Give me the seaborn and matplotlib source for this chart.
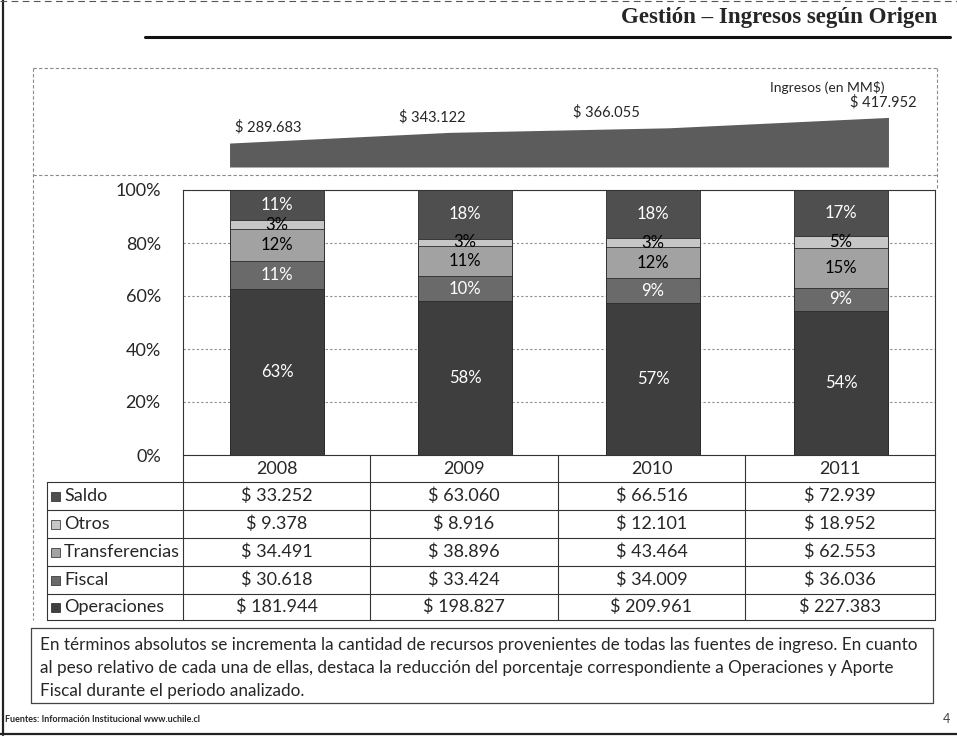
"""
Gestión - Ingresos según Origen: 100% stacked bars with totals wedge and value table
"""
import matplotlib
matplotlib.use("Agg")
import matplotlib.pyplot as plt
from matplotlib.lines import Line2D
from matplotlib.patches import Rectangle
import seaborn as sns
import numpy as np

sns.set_style("white")
plt.rcParams['font.family'] = ['Lato', 'DejaVu Sans']

# data (MM$)
years = ['2008', '2009', '2010', '2011']
totals = [289683, 343122, 366055, 417952]
saldo = [33252, 63060, 66516, 72939]
otros = [9378, 8916, 12101, 18952]
transferencias = [34491, 38896, 43464, 62553]
fiscal = [30618, 33424, 34009, 36036]
operaciones = [181944, 198827, 209961, 227383]

# top to bottom in the stack and in the table
series_names = ['Saldo', 'Otros', 'Transferencias', 'Fiscal', 'Operaciones']
series_vals = [saldo, otros, transferencias, fiscal, operaciones]
colors = ['#4f4f4f', '#c6c6c6', '#a2a2a2', '#6a6a6a', '#3e3e3e']
text_colors = ['white', 'black', 'black', 'white', 'white']

W, H = 957, 737
def fx(x): return x / W
def fy(y): return 1 - y / H

fig = plt.figure(figsize=(W / 100, H / 100), dpi=100)

def hline(x0, x1, y, **kw):
    fig.add_artist(Line2D([fx(x0), fx(x1)], [fy(y), fy(y)], **kw))

def vline(x, y0, y1, **kw):
    fig.add_artist(Line2D([fx(x), fx(x)], [fy(y0), fy(y1)], **kw))

# page frame + title
vline(3, 0, 735, color='#222', lw=1.6)
hline(0, 957, 734, color='#222', lw=1.6)
hline(0, 957, 1, color='#555', lw=0.8, ls=(0, (6, 4)))
fig.text(fx(937), fy(18), 'Gestión – Ingresos según Origen', ha='right', va='center',
         fontsize=16.5, fontweight='bold', family=['Liberation Serif', 'DejaVu Serif'])
hline(145, 950, 37, color='#111', lw=2.2)

# panel outlines (light, dashed)
dash = dict(color='#8a8a8a', lw=0.8, ls=(0, (3, 2)))
hline(33, 937, 68, **dash)
hline(33, 937, 175, **dash)
vline(33, 68, 620, **dash)
vline(937, 68, 190, **dash)

# stacked 100% bars
ax = fig.add_axes([fx(183), fy(455), (935 - 183) / W, (455 - 190) / H])
bar_w = 0.505
sums = np.sum(series_vals, axis=0)
shares = [np.array(v) / sums for v in series_vals]
cum = np.cumsum(shares[::-1], axis=0)[::-1]  # cumulative from bottom, listed top-first
for i, name in enumerate(series_names):
    sns.barplot(x=years, y=cum[i] * 100, color=colors[i], width=bar_w, saturation=1,
                edgecolor='#2a2a2a', linewidth=0.6, ax=ax, zorder=2)
for i in range(len(series_names)):
    for j in range(len(years)):
        mid = (cum[i][j] - shares[i][j] / 2) * 100
        ax.text(j, mid, f"{round(shares[i][j] * 100)}%", ha='center', va='center',
                fontsize=12, color=text_colors[i], zorder=3)
ax.set_xlim(-0.5, 3.5)
ax.set_ylim(0, 100)
ax.set_yticks(range(0, 101, 20))
ax.set_yticklabels([f"{t}%" for t in range(0, 101, 20)], fontsize=13)
ax.tick_params(axis='y', length=0, pad=16)
ax.set_xticks([])
ax.set_xlabel('')
ax.set_ylabel('')
ax.grid(axis='y', color='#8c8c8c', lw=0.8, ls=(0, (2, 2)), zorder=0)
ax.set_axisbelow(True)
for s in ax.spines.values():
    s.set_color('#333')
    s.set_linewidth(0.8)

# totals wedge on top
axw = fig.add_axes([fx(183), fy(167), (935 - 183) / W, 70 / H])
xs = np.linspace(-bar_w / 2, 3 + bar_w / 2, len(totals))
axw.fill_between(xs, totals, 170000, color='#5c5c5c', lw=0)
axw.set_xlim(-0.5, 3.5)
axw.set_ylim(170000, 520000)
axw.axis('off')
offsets = [(28, 6), (-12, 6), (-45, 6), (-4, 6)]
for x, t, off in zip(xs, totals, offsets):
    axw.annotate(f"$ {t:,}".replace(',', '.'), (x, t), xytext=off, textcoords='offset points',
                 ha='center', va='bottom', fontsize=10.5, annotation_clip=False)
fig.text(fx(884), fy(88), 'Ingresos (en MM$)', ha='right', va='center', fontsize=10)

# table below the bars
col_edges = [183, 370, 558, 745, 935]
row_edges = [482, 510, 538, 566, 594, 620]
line = dict(color='#333', lw=0.8)
for j, yr in enumerate(years):
    fig.text(fx((col_edges[j] + col_edges[j + 1]) / 2), fy(469), yr, ha='center', va='center',
             fontsize=13)
for x in col_edges:
    vline(x, 455, 620, **line)
vline(47, 482, 620, **line)
for y in row_edges:
    hline(47, 935, y, **line)
for i, name in enumerate(series_names):
    yc = (row_edges[i] + row_edges[i + 1]) / 2
    fig.add_artist(Rectangle((fx(51), fy(yc + 4.5)), 9 / W, 9 / H, facecolor=colors[i],
                             edgecolor='#222', lw=0.5))
    fig.text(fx(64), fy(yc), name, ha='left', va='center', fontsize=13)
    for j, v in enumerate(series_vals[i]):
        fig.text(fx((col_edges[j] + col_edges[j + 1]) / 2), fy(yc), f"$ {v:,}".replace(',', '.'),
                 ha='center', va='center', fontsize=13)

# comment box
box = dict(color='#444', lw=0.9)
hline(31, 933, 628, **box)
hline(31, 933, 703, **box)
vline(31, 628, 703, **box)
vline(933, 628, 703, **box)
lines = [
    'En términos absolutos se incrementa la cantidad de recursos provenientes de todas las fuentes de ingreso. En cuanto',
    'al peso relativo de cada una de ellas, destaca la reducción del porcentaje correspondiente a Operaciones y Aporte',
    'Fiscal durante el periodo analizado.',
]
for k, txt in enumerate(lines):
    fig.text(fx(40), fy(645 + k * 23), txt, ha='left', va='center', fontsize=12.35)

# footer
fig.text(fx(5), fy(719), 'Fuentes: Información Institucional www.uchile.cl', ha='left', va='center',
         fontsize=6.5, fontweight='bold')
fig.text(fx(946), fy(719), '4', ha='center', va='center', fontsize=9, color='#444')

fig.savefig('out.png', dpi=100)
